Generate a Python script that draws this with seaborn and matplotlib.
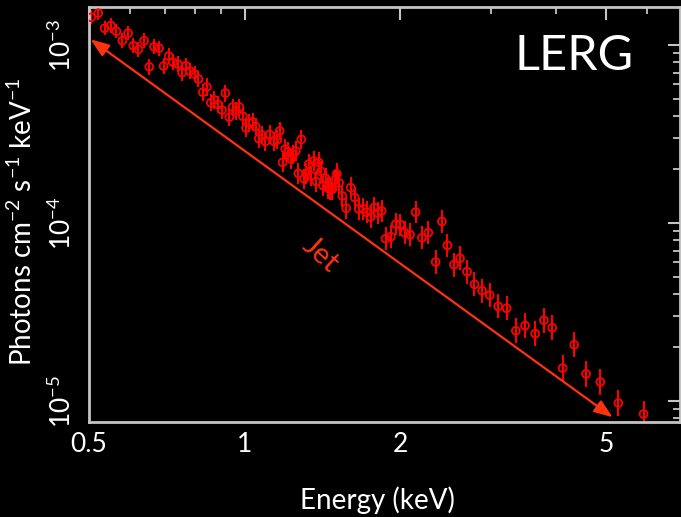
import matplotlib
matplotlib.use("Agg")
import matplotlib.pyplot as plt
import numpy as np
import pandas as pd
import seaborn as sns
from matplotlib.ticker import FixedLocator, FixedFormatter, NullFormatter

# ---------------- data ----------------
energy_kev = [0.505, 0.521, 0.536, 0.551, 0.565, 0.580, 0.595, 0.609, 0.623, 0.639,
              0.654, 0.668, 0.683, 0.697, 0.713, 0.727, 0.743, 0.757, 0.770, 0.784,
              0.800, 0.814, 0.830, 0.845, 0.860, 0.874, 0.889, 0.904, 0.918, 0.934,
              0.948, 0.962, 0.977, 0.992, 1.006, 1.021, 1.036, 1.050, 1.065, 1.080,
              1.096, 1.118, 1.141, 1.157, 1.169, 1.184, 1.198, 1.213, 1.228, 1.242,
              1.256, 1.270, 1.287, 1.303, 1.316, 1.330, 1.345, 1.360, 1.375, 1.390,
              1.405, 1.419, 1.434, 1.449, 1.464, 1.478, 1.493, 1.507, 1.523, 1.545,
              1.572, 1.604, 1.633, 1.662, 1.694, 1.721, 1.752, 1.779, 1.809, 1.841,
              1.873, 1.918, 1.961, 2.000, 2.039, 2.089, 2.141, 2.201, 2.266, 2.341,
              2.407, 2.467, 2.540, 2.609, 2.692, 2.783, 2.879, 2.979, 3.092, 3.210,
              3.346, 3.486, 3.647, 3.791, 3.934, 4.121, 4.338, 4.573, 4.874, 5.282,
              5.909]
flux = [1.431e-3, 1.51e-3, 1.241e-3, 1.287e-3, 1.194e-3, 1.057e-3, 1.165e-3, 0.990e-3, 0.946e-3, 1.057e-3,
        7.54e-4, 9.77e-4, 9.59e-4, 7.62e-4, 8.67e-4, 8.00e-4, 7.80e-4, 6.99e-4, 7.64e-4, 7.14e-4,
        6.87e-4, 6.44e-4, 5.43e-4, 5.81e-4, 4.74e-4, 4.91e-4, 4.63e-4, 4.31e-4, 5.37e-4, 3.93e-4,
        4.48e-4, 4.27e-4, 4.48e-4, 3.98e-4, 3.42e-4, 3.65e-4, 3.70e-4, 3.48e-4, 2.98e-4, 3.12e-4,
        2.87e-4, 3.14e-4, 2.87e-4, 2.94e-4, 3.29e-4, 2.19e-4, 2.60e-4, 2.52e-4, 2.29e-4, 2.43e-4,
        2.54e-4, 1.90e-4, 2.95e-4, 1.77e-4, 1.90e-4, 2.14e-4, 1.84e-4, 2.23e-4, 1.71e-4, 2.19e-4,
        1.95e-4, 1.62e-4, 1.78e-4, 1.57e-4, 1.55e-4, 1.55e-4, 1.74e-4, 1.89e-4, 1.68e-4, 1.42e-4,
        1.21e-4, 1.58e-4, 1.39e-4, 1.20e-4, 1.20e-4, 1.15e-4, 1.08e-4, 1.22e-4, 1.14e-4, 1.17e-4,
        8.16e-5, 8.38e-5, 9.87e-5, 9.79e-5, 8.82e-5, 8.60e-5, 1.15e-4, 8.26e-5, 8.82e-5, 6.04e-5,
        1.02e-4, 7.49e-5, 5.83e-5, 6.33e-5, 5.33e-5, 4.52e-5, 4.17e-5, 3.93e-5, 3.40e-5, 3.32e-5,
        2.48e-5, 2.65e-5, 2.39e-5, 2.84e-5, 2.58e-5, 1.53e-5, 2.07e-5, 1.42e-5, 1.28e-5, 9.74e-6,
        8.45e-6]
flux_err_dex = [0.040, 0.040, 0.040, 0.040, 0.040, 0.042, 0.040, 0.042, 0.042, 0.042,
                0.045, 0.042, 0.042, 0.045, 0.045, 0.045, 0.045, 0.045, 0.045, 0.045,
                0.045, 0.045, 0.048, 0.048, 0.048, 0.048, 0.048, 0.048, 0.048, 0.050,
                0.048, 0.050, 0.048, 0.050, 0.050, 0.050, 0.050, 0.050, 0.052, 0.052,
                0.052, 0.052, 0.052, 0.052, 0.052, 0.055, 0.055, 0.055, 0.055, 0.055,
                0.055, 0.058, 0.055, 0.058, 0.058, 0.058, 0.058, 0.058, 0.058, 0.058,
                0.058, 0.060, 0.060, 0.060, 0.060, 0.060, 0.060, 0.060, 0.060, 0.060,
                0.062, 0.060, 0.062, 0.062, 0.062, 0.062, 0.062, 0.062, 0.062, 0.062,
                0.065, 0.065, 0.062, 0.062, 0.065, 0.065, 0.062, 0.065, 0.065, 0.068,
                0.062, 0.065, 0.068, 0.068, 0.068, 0.068, 0.068, 0.068, 0.068, 0.068,
                0.070, 0.070, 0.070, 0.070, 0.070, 0.072, 0.070, 0.072, 0.072, 0.075,
                0.075]

jet_energy = [0.5036, 5.149]
jet_flux = [1.076e-3, 8.10e-6]

x_major_ticks = [0.5, 1, 2, 5]
x_major_labels = ["0.5", "1", "2", "5"]
x_minor_ticks = [0.6, 0.7, 0.8, 0.9, 3, 4, 6]
y_major_ticks = [1e-5, 1e-4, 1e-3]
y_major_labels = [r"$10^{-5}$", r"$10^{-4}$", r"$10^{-3}$"]
y_minor_ticks = [m * 10.0 ** e for e in (-6, -5, -4) for m in range(2, 10)]

title_text = "LERG"
jet_label = "Jet"
x_label = "Energy (keV)"
y_label = r"Photons cm$^{-2}$ s$^{-1}$ keV$^{-1}$"

# ---------------- styling ----------------
sns.set_theme(style="dark")
FONT = "Lato"
plt.rcParams["font.family"] = [FONT, "DejaVu Sans"]
plt.rcParams["mathtext.fontset"] = "custom"
plt.rcParams["mathtext.rm"] = FONT
plt.rcParams["mathtext.it"] = FONT
plt.rcParams["mathtext.bf"] = FONT
plt.rcParams["axes.unicode_minus"] = True

AX_COL = "#c4c4c4"
DATA_COL = "#ff0000"
JET_COL = "#ff3210"

df = pd.DataFrame({"E": energy_kev, "F": flux, "d": flux_err_dex})
df["lo"] = df["F"] - df["F"] * 10 ** (-df["d"])
df["hi"] = df["F"] * 10 ** (df["d"]) - df["F"]

W, H = 681, 517
fig = plt.figure(figsize=(W / 100, H / 100), dpi=100)
fig.patch.set_facecolor("black")
L, R, T, B = 89, 680, 7, 422
ax = fig.add_axes([L / W, 1 - B / H, (R - L) / W, (B - T) / H])
ax.set_facecolor("black")
ax.set_xscale("log")
ax.set_yscale("log")
ax.grid(False)

ax.errorbar(df["E"], df["F"], yerr=[df["lo"], df["hi"]], fmt="none",
            ecolor=DATA_COL, elinewidth=1.5, capsize=0, zorder=2)
sns.scatterplot(data=df, x="E", y="F", ax=ax, marker="o", s=32,
                facecolor="none", edgecolor=DATA_COL, linewidth=1.3, zorder=3,
                legend=False)

ax.annotate("", xy=(jet_energy[1], jet_flux[1]), xytext=(jet_energy[0], jet_flux[0]),
            arrowprops=dict(arrowstyle="<|-|>,head_length=0.8,head_width=0.3",
                            color=JET_COL, lw=1.6, shrinkA=0, shrinkB=0,
                            mutation_scale=14), zorder=4)
ax.text(1.40, 6.6e-5, jet_label, color=JET_COL, fontsize=21, rotation=-42,
        ha="center", va="center", rotation_mode="anchor")

ax.text(0.922, 0.848, title_text, transform=ax.transAxes, color="white",
        fontsize=35, ha="right", va="baseline")

ax.set_xlim(0.5, 6.95)
ax.set_ylim(7.62e-6, 1.635e-3)

ax.xaxis.set_major_locator(FixedLocator(x_major_ticks))
ax.xaxis.set_major_formatter(FixedFormatter(x_major_labels))
ax.xaxis.set_minor_locator(FixedLocator(x_minor_ticks))
ax.xaxis.set_minor_formatter(NullFormatter())
ax.yaxis.set_major_locator(FixedLocator(y_major_ticks))
ax.yaxis.set_major_formatter(FixedFormatter(y_major_labels))
ax.yaxis.set_minor_locator(FixedLocator(y_minor_ticks))
ax.yaxis.set_minor_formatter(NullFormatter())

ax.tick_params(which="both", direction="in", top=True, right=True,
               color=AX_COL, labelcolor="white")
ax.tick_params(which="major", length=9, width=1.5)
ax.tick_params(which="minor", length=5, width=1.3)
ax.tick_params(axis="x", which="major", labelsize=19, pad=7)
ax.tick_params(axis="y", which="major", labelsize=19, pad=9, labelrotation=90)

for s in ax.spines.values():
    s.set_color(AX_COL)
    s.set_linewidth(2)
    s.set_visible(True)

ax.set_xlabel(x_label, color="white", fontsize=20)
ax.xaxis.set_label_coords((377 - L) / (R - L), -(486 - B) / (B - T))
ax.xaxis.label.set_va("top")
ax.set_ylabel(y_label, color="white", fontsize=20, va="center")
ax.yaxis.set_label_coords(-(L - 22) / (R - L), 1 - (222 - T) / (B - T))

fig.canvas.draw()
for t in ax.get_yticklabels():
    t.set_va("center")

fig.savefig("out.png", dpi=100, facecolor="black")
